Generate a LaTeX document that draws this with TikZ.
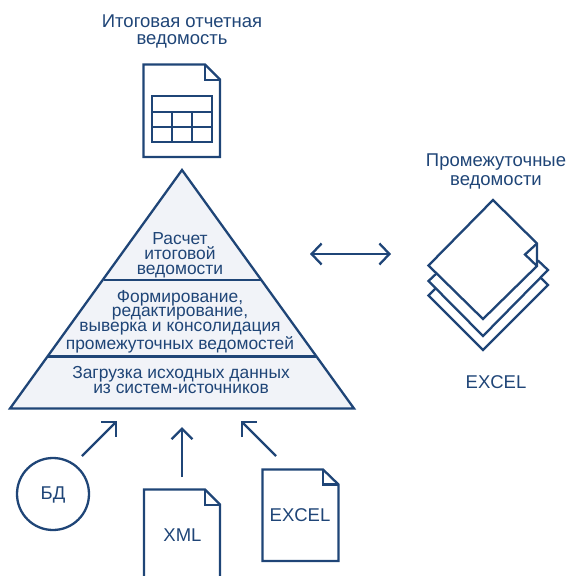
\documentclass[tikz,border=0pt]{standalone}
\usepackage{fontspec}
\setmainfont{Liberation Sans}
\usetikzlibrary{arrows.meta}
\definecolor{navy}{HTML}{1F4577}
\definecolor{pale}{HTML}{F1F3F8}
\tikzset{
  x=1pt,y=-1pt,
  ink/.style={draw=navy,line width=2.3pt,line join=miter},
  thin ink/.style={draw=navy,line width=2pt,line join=miter},
  label/.style={text=navy,font=\fontsize{18.5}{17}\selectfont,align=center,inner sep=0pt},
  plabel/.style={text=navy,font=\fontsize{17.4}{14.9}\selectfont,align=center,inner sep=0pt},
  flow/.style={draw=navy,line width=2.3pt,-{Straight Barb[length=10.5pt,width=21pt,line width=2.3pt]}},
  flow2/.style={draw=navy,line width=2.3pt,{Straight Barb[length=10pt,width=21pt,line width=2.3pt]}-{Straight Barb[length=10pt,width=21pt,line width=2.3pt]}},
}
\begin{document}
\begin{tikzpicture}
\useasboundingbox (0,0) rectangle (568,576);
\clip (0,0) rectangle (568,576);
% titles
\node[label] (title) at (182,31.5) {Итоговая отчетная\\ведомость};
\node[label] (interim) at (496,171) {Промежуточные\\[2pt]ведомости};
\node[label] (excelcap) at (496,382) {EXCEL};
% report document
\draw[ink] (143.5,64.5) -- (205,64.5) -- (220,79.5) -- (220,157) -- (143.5,157) -- cycle;
\draw[ink] (205,64.5) -- (205,80) -- (220,80);
\draw[thin ink] (152,96) rectangle (212,142);
\draw[thin ink] (152,111.5) -- (212,111.5) (152,126.5) -- (212,126.5)
  (172,111.5) -- (172,142) (192,111.5) -- (192,142);
% pyramid
\draw[ink,fill=pale] (182,170) -- (354,408.5) -- (10,408.5) -- cycle;
\draw[ink] (103.5,280) -- (260.5,280);
\draw[ink] (48,356.5) -- (316,356.5);
\node[plabel] (top) at (180,255.5) {Расчет\\итоговой\\ведомости};
\node[plabel] (mid) at (180,321.5) {Формирование,\\редактирование,\\выверка и консолидация\\промежуточных ведомостей};
\node[plabel] (low) at (181,380) {Загрузка исходных данных\\из систем-источников};
% double arrow
\coordinate (dl) at (310,254);
\coordinate (dr) at (391,254);
\draw[flow2] (dl) -- (dr);
% stacked sheets
\draw[ink] (437,273) -- (428.5,281) -- (483,336) -- (548,270) -- (538,260.5);
\draw[ink] (436,288) -- (428.5,295.5) -- (483,350) -- (548,285) -- (540,277);
\draw[ink] (493,200) -- (537,243.5) -- (537,266) -- (483,319) -- (428.5,265.5) -- cycle;
\draw[ink] (537,243.5) -- (525,254.5) -- (537,266);
\node[label] (bd) at (53,495) {БД};
\draw[ink] (53,494) circle[radius=36];
\node[label] (xml) at (182.5,535.5) {XML};
\node[label] (exc) at (300,515) {EXCEL};
% XML document
\draw[ink] (144,580) -- (144,489.5) -- (205,489.5) -- (220,504.5) -- (220,580);
\draw[ink] (205,489.5) -- (205,505) -- (220,505);
% EXCEL document
\draw[ink] (262.5,469.5) -- (323,469.5) -- (338.5,484.5) -- (338.5,561) -- (262.5,561) -- cycle;
\draw[ink] (323,469.5) -- (323,484.5) -- (338.5,484.5);
% inflow arrows
\coordinate (a1) at (82,456);
\coordinate (a2) at (117,421);
\coordinate (b1) at (182,477);
\coordinate (b2) at (182,427);
\coordinate (c1) at (276,456);
\coordinate (c2) at (241,421);
\draw[flow] (a1) -- (a2);
\draw[flow] (b1) -- (b2);
\draw[flow] (c1) -- (c2);
\end{tikzpicture}
\end{document}
